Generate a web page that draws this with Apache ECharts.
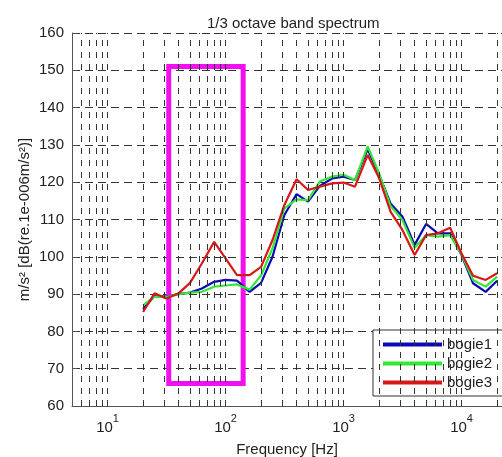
<!DOCTYPE html>
<html>
<head>
<meta charset="utf-8">
<script src="https://cdn.jsdelivr.net/npm/echarts@6/dist/echarts.min.js"></script>
<style>
  html, body { margin: 0; padding: 0; background: #fff; }
  #chart { width: 502px; height: 457px; }
</style>
</head>
<body>
<div id="chart"></div>
<script>
// 1/3 octave band centre frequencies (Hz)
var freqs = [20, 25, 31.5, 40, 50, 63, 80, 100, 125, 160, 200, 250, 315, 400, 500, 630,
  800, 1000, 1250, 1600, 2000, 2500, 3150, 4000, 5000, 6300, 8000, 10000, 12500, 16000, 20000]

var bogie1 = [86, 89.5, 89.3, 90, 90.4, 91.5, 93.3, 93.8, 93.6, 90.6, 93, 100, 111.2, 116.8, 114.8, 119,
  121, 121.5, 120.6, 128.8, 122, 114.3, 110.8, 103.2, 108.8, 106.3, 106.3, 100.4, 92.9, 90.6, 93.6]
var bogie2 = [87, 89.3, 89.2, 90, 90.4, 90.6, 92, 92.3, 92.6, 91.2, 95, 102.3, 113, 115.4, 115.2, 120.2,
  121.5, 122, 120.6, 129.6, 122.4, 113.6, 109.9, 102.4, 105.8, 105.4, 105.8, 100.6, 93.8, 92, 94.7]
var bogie3 = [85.2, 90.2, 88.8, 90.2, 93, 98.2, 104, 99.6, 95.1, 95.1, 97.3, 104.5, 113.9, 120.8, 117.9, 118.8,
  119.7, 119.9, 118.8, 127.3, 121.1, 112.1, 107.2, 100.5, 105.8, 106.3, 107.8, 100.9, 94.9, 93.8, 95.6]

// vertical grid (log decades + minor lines)
var gridFreqs = [6, 7, 8, 9, 10, 20, 30, 40, 50, 60, 70, 80, 90, 100, 200, 300, 400, 500, 600, 700, 800, 900,
  1000, 2000, 3000, 4000, 5000, 6000, 7000, 8000, 9000, 10000, 20000]

// highlighted region [fmin, fmax], [ymin, ymax]
var boxFreq = [33, 141]
var boxLevel = [66, 151]

function pairs(ys) {
  return freqs.map(function(f, i) { return [f, ys[i]] })
}

var chart = echarts.init(document.getElementById('chart'))
var font = 'Liberation Sans, Arial, sans-serif'

chart.setOption({
  animation: false,
  textStyle: { fontFamily: font },
  title: {
    text: '1/3 octave band spectrum',
    left: 202,
    top: 11,
    textStyle: { fontSize: 15, fontWeight: 'normal', color: '#222', fontFamily: font }
  },
  legend: {
    data: ['bogie1', 'bogie2', 'bogie3'],
    orient: 'vertical',
    left: 373,
    top: 330,
    width: 140,
    padding: [7, 60, 6, 10],
    itemGap: 4,
    itemWidth: 59,
    itemHeight: 4,
    icon: 'rect',
    borderColor: '#333',
    borderWidth: 1,
    backgroundColor: '#fff',
    textStyle: { fontSize: 15, color: '#222', fontFamily: font }
  },
  grid: { left: 72, right: 0, top: 33, bottom: 51, outerBoundsMode: 'none' },
  xAxis: {
    type: 'log',
    logBase: 10,
    min: 5,
    max: 22000,
    name: 'Frequency [Hz]',
    nameLocation: 'middle',
    nameGap: 30,
    nameTextStyle: { fontSize: 15, color: '#222' },
    axisLine: { lineStyle: { color: '#555', width: 1 } },
    axisTick: { inside: true, length: 5, lineStyle: { color: '#555' } },
    splitLine: { show: false },
    axisLabel: {
      color: '#222',
      margin: 7,
      formatter: function(v) {
        var e = Math.round(Math.log10(v))
        if (Math.abs(v - Math.pow(10, e)) > 1e-6 * v || e < 1) return ''
        return '{b|10}{s|' + e + '}'
      },
      rich: {
        b: { fontSize: 15, color: '#222', lineHeight: 24, verticalAlign: 'bottom', padding: [0, 0, 2, 0] },
        s: { fontSize: 11, color: '#222', lineHeight: 24, verticalAlign: 'top' }
      }
    }
  },
  yAxis: {
    type: 'value',
    min: 60,
    max: 160,
    interval: 10,
    name: 'm/s\u00b2 [dB(re.1e-006m/s\u00b2)]',
    nameLocation: 'middle',
    nameGap: 40,
    nameMoveOverlap: false,
    nameTextStyle: { fontSize: 15, color: '#222' },
    axisLine: { show: true, lineStyle: { color: '#555', width: 1 } },
    axisTick: { show: true, inside: true, length: 5, lineStyle: { color: '#555' } },
    axisLabel: { fontSize: 15, color: '#222', margin: 8 },
    splitLine: { show: true, lineStyle: { color: '#333', type: [8, 5], width: 1 } }
  },
  series: [
    {
      type: 'line',
      data: [],
      silent: true,
      markLine: {
        silent: true,
        symbol: 'none',
        label: { show: false },
        lineStyle: { color: '#333', type: [6, 6], width: 1 },
        data: gridFreqs.map(function(f) { return { xAxis: f } })
      }
    },
    {
      name: 'bogie1',
      type: 'line',
      data: pairs(bogie1),
      showSymbol: false,
      color: '#0a0ab8',
      lineStyle: { width: 2.2 }
    },
    {
      name: 'bogie2',
      type: 'line',
      data: pairs(bogie2),
      showSymbol: false,
      color: '#33e833',
      lineStyle: { width: 2.2 }
    },
    {
      name: 'bogie3',
      type: 'line',
      data: pairs(bogie3),
      showSymbol: false,
      color: '#d81818',
      lineStyle: { width: 2.2 }
    },
    {
      type: 'line',
      data: [],
      silent: true,
      z: 5,
      markArea: {
        silent: true,
        itemStyle: { color: 'rgba(0,0,0,0)', borderColor: '#f010f0', borderWidth: 5 },
        data: [[{ coord: [boxFreq[0], boxLevel[1]] }, { coord: [boxFreq[1], boxLevel[0]] }]]
      }
    }
  ]
})
</script>
</body>
</html>
